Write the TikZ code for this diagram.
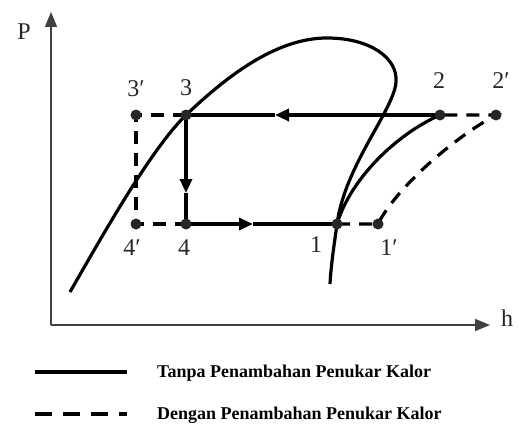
\documentclass[tikz,border=0pt]{standalone}
\usepackage{fontspec}
\setmainfont{Liberation Serif}
\usetikzlibrary{arrows.meta, positioning}

\begin{document}
\begin{tikzpicture}[
    x=1pt, y=-1pt,
    axis/.style={line width=1.5pt, black!75, -{Triangle[length=15pt,width=12pt]}},
    solidline/.style={line width=3.2pt, black},
    dashline/.style={line width=3.2pt, black, dash pattern=on 13pt off 9pt},
    flow/.style={line width=3.2pt, black, -{Triangle[length=14pt,width=12pt]}},
    dot/.style={circle, fill=black!85, inner sep=0pt, minimum size=11pt},
    lbl/.style={font=\fontsize{24}{28}\selectfont, text=black!85},
    leg/.style={font=\fontsize{18}{21}\selectfont\bfseries, anchor=west, inner sep=0pt}
]
\useasboundingbox (0,0) rectangle (521,425);

    % Axes
    \coordinate (origin) at (51,325);
    \coordinate (ytip) at (51,12);
    \coordinate (xtip) at (490,325);
    \draw[axis] (origin) -- (ytip);
    \draw[axis] (origin) -- (xtip);
    \node[lbl] (plabel) at (24,32) {P};
    \node[lbl] (hlabel) at (507,318) {h};

    % State points
    \coordinate (p1) at (337,224);
    \coordinate (p2) at (440,115);
    \coordinate (p3) at (186,115);
    \coordinate (p4) at (186,224);
    \coordinate (p1b) at (378,224);
    \coordinate (p2b) at (496,115);
    \coordinate (p3b) at (136,115);
    \coordinate (p4b) at (136,224);

    % Saturation dome
    \draw[solidline] (70,292) .. controls (100,240) and (150,150) .. (p3)
        .. controls (225,78) and (275,38) .. (327,38)
        .. controls (370,38) and (398,58) .. (396,82)
        .. controls (394,110) and (345,165) .. (p1)
        .. controls (334,246) and (331,265) .. (330,284);

    % Cycle without heat exchanger
    \coordinate (a23) at (275,115);
    \coordinate (a34) at (186,193);
    \coordinate (a41) at (253,224);
    \draw[flow] (p2) -- (a23);
    \draw[solidline] (a23) -- (p3);
    \draw[flow] (p3) -- (a34);
    \draw[solidline] (a34) -- (p4);
    \draw[flow] (p4) -- (a41);
    \draw[solidline] (a41) -- (p1);
    \draw[solidline] (p1) .. controls (350,180) and (395,135) .. (p2);

    % Cycle with heat exchanger
    \draw[dashline] (p3) -- (p3b) -- (p4b) -- (p4);
    \draw[dashline] (p1) -- (p1b) .. controls (395,190) and (450,140) .. (p2b) -- (p2);

    % Dots
    \foreach \p in {p1,p2,p3,p4,p1b,p2b,p3b,p4b}
        \node[dot] (d\p) at (\p) {};

    % Point labels
    \node[lbl] (l3b) at (136,89) {3′};
    \node[lbl] (l3) at (186,88) {3};
    \node[lbl] (l2) at (439,81) {2};
    \node[lbl] (l2b) at (501,81) {2′};
    \node[lbl] (l4b) at (132,248) {4′};
    \node[lbl] (l4) at (184,248) {4};
    \node[lbl] (l1) at (316,245) {1};
    \node[lbl] (l1b) at (389,248) {1′};

    % Legend
    \coordinate (legA) at (35,372);
    \coordinate (legB) at (127,372);
    \coordinate (legC) at (35,414);
    \coordinate (legD) at (127,414);
    \draw[line width=4pt] (legA) -- (legB);
    \node[leg] (legtxt1) at (157,373) {Tanpa Penambahan Penukar Kalor};
    \draw[line width=4pt, dash pattern=on 17pt off 11pt] (legC) -- (legD);
    \node[leg] (legtxt2) at (157,415) {Dengan Penambahan Penukar Kalor};

\end{tikzpicture}
\end{document}
